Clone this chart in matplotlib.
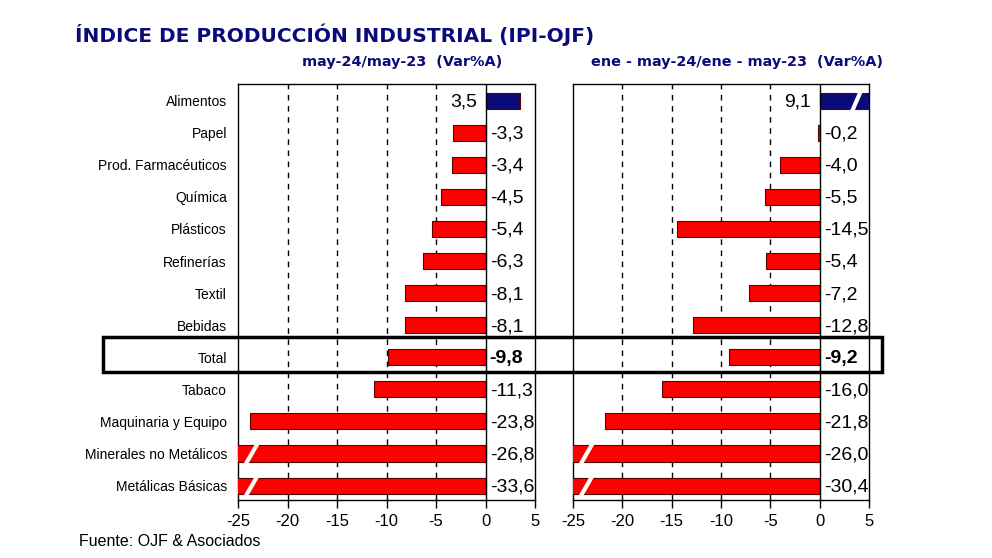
import numpy as np
import matplotlib
matplotlib.use("Agg")
import matplotlib.pyplot as plt
from matplotlib.patches import Rectangle

# data
sectores = ["Alimentos", "Papel", "Prod. Farmacéuticos", "Química", "Plásticos",
            "Refinerías", "Textil", "Bebidas", "Total", "Tabaco",
            "Maquinaria y Equipo", "Minerales no Metálicos", "Metálicas Básicas"]
var_mes = [3.5, -3.3, -3.4, -4.5, -5.4, -6.3, -8.1, -8.1, -9.8, -11.3, -23.8, -26.8, -33.6]
var_acum = [9.1, -0.2, -4.0, -5.5, -14.5, -5.4, -7.2, -12.8, -9.2, -16.0, -21.8, -26.0, -30.4]

titulo = "ÍNDICE DE PRODUCCIÓN INDUSTRIAL (IPI-OJF)"
sub_mes = "may-24/may-23  (Var%A)"
sub_acum = "ene - may-24/ene - may-23  (Var%A)"
fuente = "Fuente: OJF & Asociados"

NAVY = "#0a0a78"
RED = "#ff0000"
XMIN, XMAX = -25, 5

plt.rcParams['font.family'] = ['Liberation Sans', 'DejaVu Sans']
plt.rcParams['axes.unicode_minus'] = False

fig = plt.figure(figsize=(9.92, 5.58), dpi=100)
ax1 = fig.add_axes([238/992, 1-500/558, 297/992, 416/558])
ax2 = fig.add_axes([573/992, 1-500/558, 296/992, 416/558])


def draw_panel(ax, vals):
    y = np.arange(len(vals))
    colors = [NAVY if v > 0 else RED for v in vals]
    ax.barh(y, vals, height=0.5, color=colors, edgecolor="#5a0000", linewidth=0.8, zorder=3)
    ax.set_xlim(XMIN, XMAX)
    ax.set_ylim(len(vals) - 0.55, -0.52)
    for g in [-20, -15, -10, -5]:
        ax.axvline(g, color="black", lw=1, ls=(0, (4, 4)), zorder=1)
    ax.axvline(0, color="black", lw=1, zorder=4)
    ax.set_xticks(np.arange(XMIN, XMAX + 1, 5))
    ax.tick_params(axis="x", direction="out", length=6, width=1, labelsize=12, pad=4)
    ax.tick_params(axis="y", length=0)
    for s in ax.spines.values():
        s.set_linewidth(1)
    for i, v in enumerate(vals):
        txt = f"{v:.1f}".replace(".", ",")
        bold = "bold" if sectores[i] == "Total" else "normal"
        if v < 0:
            ax.annotate(txt, (0, i), xytext=(3, -1), textcoords="offset points",
                        ha="left", va="center", fontsize=14, fontweight=bold, zorder=5)
        else:
            ax.annotate(txt, (0, i), xytext=(-6, -1), textcoords="offset points",
                        ha="right", va="center", fontsize=14, fontweight=bold, zorder=5)
        # break marks for bars that go past the axis
        if v < XMIN:
            ax.plot([XMIN + 0.8, XMIN + 2.0], [i + 0.32, i - 0.32], color="white", lw=3,
                    solid_capstyle="butt", zorder=4)
        if v > XMAX:
            ax.plot([XMAX - 1.7, XMAX - 0.8], [i + 0.32, i - 0.32], color="white", lw=3,
                    solid_capstyle="butt", zorder=4)


draw_panel(ax1, var_mes)
draw_panel(ax2, var_acum)

ax1.set_yticks(np.arange(len(sectores)))
ax1.set_yticklabels(sectores, fontsize=10)
ax1.tick_params(axis="y", pad=8)
ax2.set_yticks([])

fig.text(75/992, 1-35/558, titulo, family="DejaVu Sans", fontweight="bold",
         fontsize=14.5, color=NAVY, va="center", ha="left")
fig.text(402/992, 1-62/558, sub_mes, family="DejaVu Sans", fontweight="bold",
         fontsize=10.4, color=NAVY, va="center", ha="center")
fig.text(737/992, 1-62/558, sub_acum, family="DejaVu Sans", fontweight="bold",
         fontsize=10.4, color=NAVY, va="center", ha="center")
fig.text(79/992, 1-541/558, fuente, fontsize=11.5, va="center", ha="left")

# box around the Total row
fig.patches.append(Rectangle((103/992, 1-372/558), (882-103)/992, 35/558,
                             transform=fig.transFigure, fill=False,
                             edgecolor="black", lw=2.5, zorder=10))

fig.savefig("out.png", dpi=100, facecolor="white")
